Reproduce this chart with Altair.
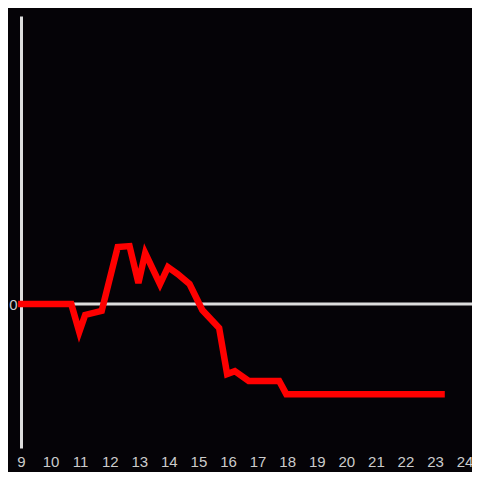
import altair as alt
import pandas as pd

hours = [8.9, 10.7, 10.97, 11.17, 11.73, 12.27, 12.67, 12.97, 13.2, 13.7, 13.97,
         14.3, 14.7, 15.13, 15.7, 15.97, 16.23, 16.7, 17.73, 17.97, 23.33]
values = [0, 0, -9.7, -3.8, -2.4, 19.8, 20.1, 7.3, 17.7, 6.9, 12.8,
          10.4, 6.9, -2.1, -8.3, -24.3, -23.3, -26.7, -26.7, -31.3, -31.3]
x_ticks = list(range(9, 25))

df = pd.DataFrame({"hour": hours, "value": values})

W = 451
xscale = alt.Scale(domain=[9, 24.25], nice=False, zero=False)
yscale = alt.Scale(domain=[-50, 100], nice=False)

zero = alt.Chart(pd.DataFrame({"z": [0]})).mark_rule(
    color="#dddddd", strokeWidth=3
).encode(
    y=alt.Y("z:Q", scale=yscale),
    x=alt.value(0), x2=alt.value(W),
)

line = alt.Chart(df).mark_line(color="#ff0000", strokeWidth=6.5, strokeJoin="miter").encode(
    x=alt.X("hour:Q", scale=xscale, title=None,
            axis=alt.Axis(values=x_ticks, domain=False, ticks=False, grid=False,
                          labelColor="#cccccc", labelFontSize=15, labelFont="Liberation Sans",
                          labelPadding=6, labelFlush=False, format="d")),
    y=alt.Y("value:Q", scale=yscale, title=None,
            axis=alt.Axis(values=[0], domain=True, domainColor="#dddddd", domainWidth=3,
                          ticks=False, grid=False, labelColor="#cccccc", labelFontSize=15,
                          labelFont="Liberation Sans", labelPadding=4)),
)

chart = alt.layer(zero, line).properties(
    width=W, height=432,
    background="#050307",
    autosize=alt.AutoSizeParams(type="none"),
    padding={"left": 13, "top": 8, "right": 0, "bottom": 24},
).configure_view(stroke=None)

chart.save("out.html", embed_options={"renderer": "svg", "actions": False})
